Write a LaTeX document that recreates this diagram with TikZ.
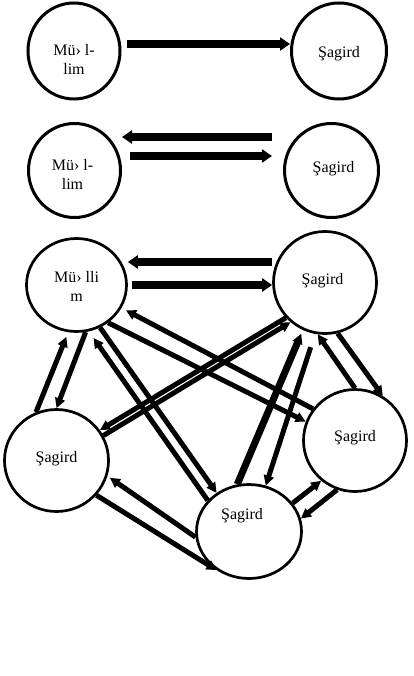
\documentclass[tikz,border=0pt]{standalone}
\usepackage{fontspec}
\setmainfont{Liberation Serif}
\usepackage{tikz}
\usetikzlibrary{shapes.geometric,arrows.meta}
\tikzset{
  ring/.style={draw, ellipse, line width=3pt, inner sep=0pt},
  txt/.style={font=\fontsize{16}{19}\selectfont, align=center, inner sep=0pt},
  arr/.style={line width=5pt, -{Triangle[length=10pt,width=10pt]}},
  heavy/.style={line width=8pt, -{Triangle[length=10pt,width=13pt]}},
}
\begin{document}
\begin{tikzpicture}[x=1pt,y=-1pt]
  \useasboundingbox (0,0) rectangle (413,676);
  % first pair: one way
  \node[ring, minimum width=92pt, minimum height=96pt] (t1) at (74,51) {};
  \node[ring, minimum width=95pt, minimum height=96pt] (s1) at (339,51) {};
  \node[txt] at ([yshift=-8pt]t1.center) {Mü› l-\\lim};
  \node[txt] at ([yshift=-3pt]s1.center) {Şagird};
  \draw[heavy, shorten <=5.5pt] ([yshift=7pt]t1.east) -- ([yshift=7pt]s1.west);
  % second pair: both ways
  \node[ring, minimum width=92pt, minimum height=94pt] (t2) at (74.5,170.5) {};
  \node[ring, minimum width=94pt, minimum height=94pt] (s2) at (331.5,170.5) {};
  \node[txt] at ([xshift=-2pt,yshift=-4pt]t2.center) {Mü› l-\\lim};
  \node[txt] at ([xshift=2pt,yshift=2pt]s2.center) {Şagird};
  \draw[heavy, shorten <=11pt] ([yshift=33.5pt]s2.west) -- ([yshift=33.5pt]t2.east);
  \draw[heavy, shorten <=8pt, shorten >=11pt] ([yshift=14.5pt]t2.east) -- ([yshift=14.5pt]s2.west);
  % the whole group
  \node[ring, line width=2.7pt, minimum width=100pt, minimum height=93pt] (t3) at (76.5,285) {};
  \node[ring, line width=2.7pt, minimum width=103pt, minimum height=102pt] (s3) at (325,282.5) {};
  \node[ring, line width=2.7pt, minimum width=104pt, minimum height=102pt] (s4) at (56.5,460.5) {};
  \node[ring, line width=2.7pt, minimum width=103pt, minimum height=102pt] (s5) at (355,440.5) {};
  \node[ring, line width=2.7pt, minimum width=105pt, minimum height=94pt] (s6) at (249,531.5) {};
  \node[txt] at ([yshift=-1.5pt]t3.center) {Mü› lli\\m};
  \node[txt] at ([xshift=-2.5pt,yshift=1.5pt]s3.center) {Şagird};
  \node[txt] at ([yshift=2pt]s4.center) {Şagird};
  \node[txt] at ([yshift=3pt]s5.center) {Şagird};
  \node[txt] at ([xshift=-7pt,yshift=16pt]s6.center) {Şagird};
  \draw[heavy] ([yshift=20.5pt]s3.west) -- ([yshift=23pt]t3.east);
  \draw[heavy, shorten <=4pt] (t3.east) -- ([yshift=-2.5pt]s3.west);
  \draw[arr, shorten >=5pt] (s4.113) -- (t3.-100);
  \draw[arr] (t3.-79) -- (s4.90);
  \draw[arr] (t3.-61) -- (s6.130);
  \draw[arr, shorten >=8pt] (s6.143) -- (t3.-75.5);
  \draw[arr] (t3.-50) -- (s5.159);
  \draw[arr, shorten >=5pt] (s5.143) -- (t3.-27);
  \draw[arr] (s4.28) -- (s3.-131);
  \draw[arr] (s3.-138) -- (s4.35);
  \draw[arr, line width=7pt, shorten >=4pt] (s6.104) -- (s3.-115);
  \draw[arr, shorten <=14pt] (s3.-101) -- (s6.70);
  \draw[arr] (s5.90) -- (s3.-98);
  \draw[arr] (s3.-76) -- (s5.58);
  \draw[arr, shorten >=3pt] (s6.-174) -- (s4.-17.5);
  \draw[arr] (s4.-41) -- (s6.-130);
  \draw[arr] (s6.33) -- (s5.-130);
  \draw[arr] (s5.-110) -- (s6.14);
\end{tikzpicture}
\end{document}
